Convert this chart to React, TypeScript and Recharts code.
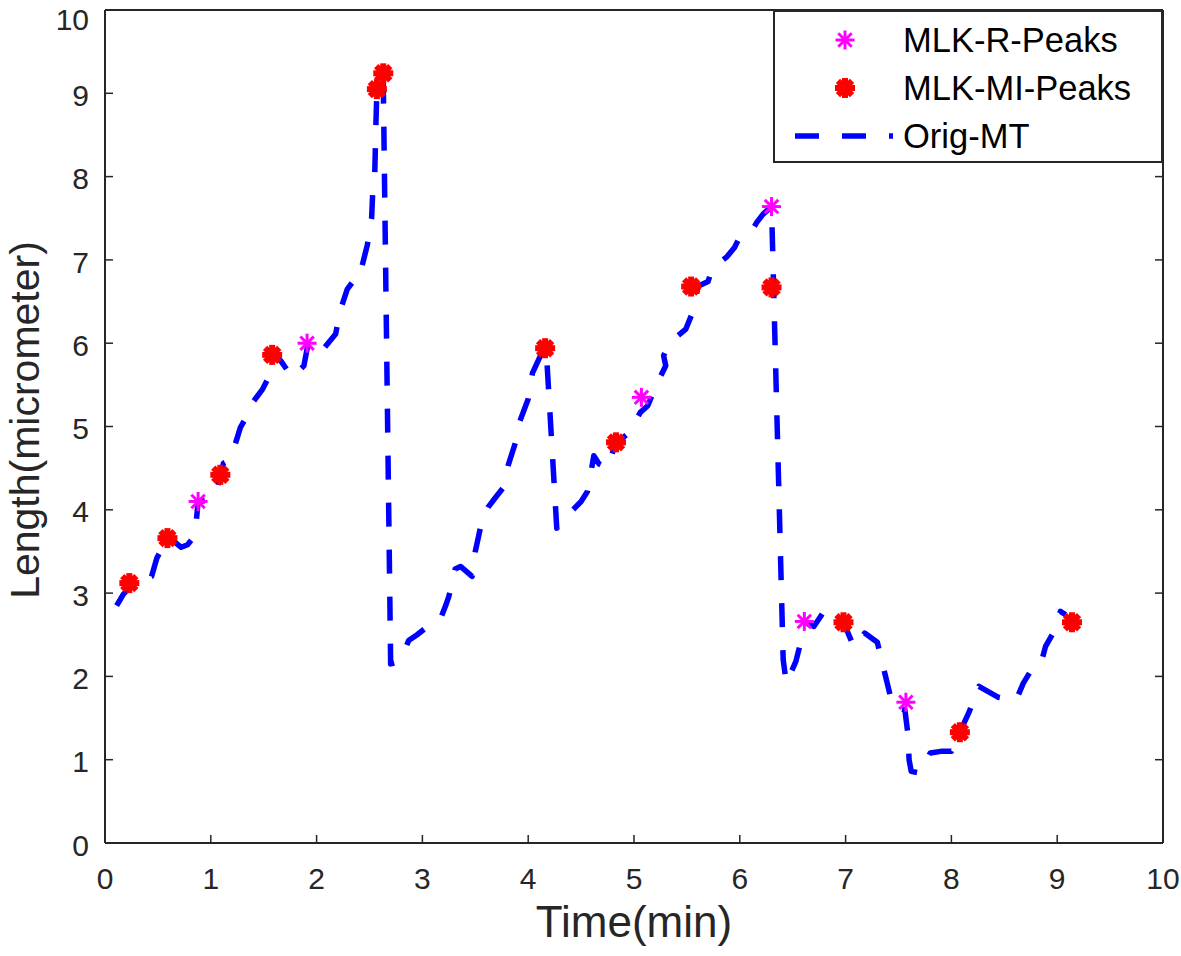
import React from "react";
import { ComposedChart, Line, Scatter, XAxis, YAxis, Legend } from "recharts";

// Orig-MT trace (time in min, length in micrometer)
const MT_TIME = [
  0.11, 0.17, 0.24, 0.35, 0.44, 0.49, 0.59, 0.65, 0.72, 0.78, 0.85, 0.87, 0.88, 0.96, 1.0, 1.06,
  1.09, 1.12, 1.18, 1.21, 1.28, 1.33, 1.35, 1.49, 1.53, 1.56, 1.58, 1.66, 1.77, 1.88, 1.92, 2.05,
  2.18, 2.22, 2.29, 2.35, 2.41, 2.43, 2.48, 2.52, 2.53, 2.55, 2.56, 2.57, 2.6, 2.63, 2.7, 2.76,
  2.8, 2.87, 2.95, 3.03, 3.17, 3.22, 3.25, 3.31, 3.36, 3.47, 3.5, 3.57, 3.62, 3.68, 3.76, 3.81,
  3.88, 3.92, 4.0, 4.04, 4.13, 4.17, 4.27, 4.4, 4.5, 4.56, 4.6, 4.62, 4.67, 4.75, 4.8, 4.83,
  4.95, 5.06, 5.13, 5.22, 5.3, 5.28, 5.33, 5.49, 5.58, 5.6, 5.65, 5.7, 5.74, 5.88, 5.95, 5.99,
  6.1, 6.16, 6.22, 6.3, 6.41, 6.44, 6.53, 6.59, 6.64, 6.7, 6.8, 6.89, 6.98, 7.08, 7.18, 7.3,
  7.45, 7.56, 7.59, 7.6, 7.62, 7.7, 7.8, 7.9, 8.0, 8.08, 8.17, 8.26, 8.44, 8.61, 8.68, 8.79,
  8.85, 8.89, 8.97, 9.03, 9.08,
];
const MT_LENGTH = [
  2.85, 2.98, 3.08, 3.15, 3.2, 3.42, 3.66, 3.62, 3.55, 3.58, 3.69, 3.96, 4.1, 4.11, 4.2, 4.23,
  4.42, 4.56, 4.6, 4.7, 4.99, 5.1, 5.21, 5.45, 5.55, 5.65, 5.86, 5.79, 5.59, 5.73, 6.0, 5.91,
  6.11, 6.38, 6.65, 6.75, 6.78, 6.93, 7.18, 7.5, 7.8, 8.05, 8.6, 9.05, 9.15, 9.15, 2.15, 2.17,
  2.22, 2.43, 2.5, 2.58, 2.69, 2.85, 2.96, 3.29, 3.32, 3.2, 3.5, 3.91, 4.03, 4.13, 4.26, 4.53,
  4.81, 5.06, 5.33, 5.64, 5.89, 5.93, 3.78, 3.97, 4.1, 4.22, 4.5, 4.65, 4.55, 4.5, 4.7, 4.8,
  4.92, 5.17, 5.25, 5.52, 5.73, 5.85, 6.0, 6.17, 6.45, 6.68, 6.71, 6.74, 6.9, 7.04, 7.15, 7.25,
  7.32, 7.45, 7.55, 7.64, 2.2, 1.92, 2.18, 2.48, 2.63, 2.6, 2.79, 2.76, 2.65, 2.35, 2.52, 2.41,
  1.62, 1.6, 1.3, 1.0, 0.86, 0.84, 1.08, 1.1, 1.1, 1.33, 1.58, 1.88, 1.75, 1.71, 1.92, 2.15,
  2.17, 2.36, 2.54, 2.78, 2.74,
];

// MLK-R-Peaks (magenta asterisks)
const R_PEAK_TIME = [0.88, 1.91, 5.07, 6.3, 6.61, 7.57];
const R_PEAK_LENGTH = [4.1, 6.0, 5.35, 7.64, 2.66, 1.69];

// MLK-MI-Peaks (red)
const MI_PEAK_TIME = [0.23, 0.59, 1.09, 1.58, 2.57, 2.63, 4.16, 4.83, 5.54, 6.3, 6.98, 8.08, 9.14];
const MI_PEAK_LENGTH = [3.12, 3.66, 4.42, 5.86, 9.05, 9.24, 5.94, 4.81, 6.68, 6.67, 2.65, 1.33, 2.65];

const TICKS = [0, 1, 2, 3, 4, 5, 6, 7, 8, 9, 10];

const FONT = '"Liberation Sans", Arial, Helvetica, sans-serif';
const AXIS = "#262626";
const BLUE = "#0000ff";
const RED = "#ff0000";
const MAGENTA = "#ff00ff";
const DASH = "24 23";

const mtData = MT_TIME.map((t, i) => ({ t, len: MT_LENGTH[i] }));
const rData = R_PEAK_TIME.map((t, i) => ({ t, len: R_PEAK_LENGTH[i] }));
const miData = MI_PEAK_TIME.map((t, i) => ({ t, len: MI_PEAK_LENGTH[i] }));

function Asterisk({ cx, cy, color, w, r, fill }: any) {
  const d = r * Math.SQRT1_2;
  return (
    <g stroke={color} strokeWidth={w}>
      {fill && <circle cx={cx} cy={cy} r={r - 3} fill={color} stroke="none" />}
      <line x1={cx - r} y1={cy} x2={cx + r} y2={cy} />
      <line x1={cx} y1={cy - r} x2={cx} y2={cy + r} />
      <line x1={cx - d} y1={cy - d} x2={cx + d} y2={cy + d} />
      <line x1={cx - d} y1={cy + d} x2={cx + d} y2={cy - d} />
    </g>
  );
}

const rShape = (p: any) => <Asterisk cx={p.cx} cy={p.cy} color={MAGENTA} w={3} r={9.5} />;
const miShape = (p: any) => <Asterisk cx={p.cx} cy={p.cy} color={RED} w={6} r={10} fill />;

function LegendBox() {
  const rows = [
    { label: "MLK-R-Peaks", kind: "r" },
    { label: "MLK-MI-Peaks", kind: "mi" },
    { label: "Orig-MT", kind: "line" },
  ];
  return (
    <svg width={390} height={153} style={{ display: "block" }}>
      <rect x={1} y={1} width={388} height={151} fill="#fff" stroke={AXIS} strokeWidth={2} />
      {rows.map((row, i) => {
        const cy = 30 + i * 48;
        return (
          <g key={row.label}>
            {row.kind === "r" && <Asterisk cx={72} cy={cy} color={MAGENTA} w={3} r={9.5} />}
            {row.kind === "mi" && <Asterisk cx={72} cy={cy} color={RED} w={6} r={10} fill />}
            {row.kind === "line" && (
              <line x1={22} y1={cy} x2={120} y2={cy} stroke={BLUE} strokeWidth={5.5} strokeDasharray={DASH} />
            )}
            <text x={130} y={cy + 12} fontSize={34.5} fontFamily={FONT} fill="#000">
              {row.label}
            </text>
          </g>
        );
      })}
    </svg>
  );
}

export default function App() {
  const tickStyle = { fill: AXIS, fontSize: 30, fontFamily: FONT };
  return (
    <div style={{ position: "absolute", left: 0, top: 0, width: 1181, height: 956, background: "#fff" }}>
      <ComposedChart width={1181} height={956} margin={{ top: 9, right: 17, bottom: 53, left: 45 }}>
        <XAxis
          type="number" dataKey="t" domain={[0, 10]} ticks={TICKS} allowDataOverflow
          height={60} tickSize={-8} tickMargin={33}
          axisLine={{ stroke: AXIS, strokeWidth: 2 }} tickLine={{ stroke: AXIS, strokeWidth: 1.5 }}
          tick={tickStyle}
          label={{
            content: () => (
              <text x={634} y={937} textAnchor="middle" fontSize={44} fontFamily={FONT} fill={AXIS}>
                Time(min)
              </text>
            ),
          }}
        />
        <XAxis
          xAxisId="top" orientation="top" type="number" domain={[0, 10]} ticks={TICKS} allowDataOverflow
          height={1} tickSize={-8} tickFormatter={() => ""}
          axisLine={{ stroke: AXIS, strokeWidth: 2 }} tickLine={{ stroke: AXIS, strokeWidth: 1.5 }}
        />
        <YAxis
          type="number" domain={[0, 10]} ticks={TICKS} allowDataOverflow
          width={60} tickSize={-8} tickMargin={24}
          axisLine={{ stroke: AXIS, strokeWidth: 2 }} tickLine={{ stroke: AXIS, strokeWidth: 1.5 }}
          tick={{ ...tickStyle, dy: 2 }}
          label={{
            content: () => (
              <text x={39} y={420} transform="rotate(-90 39 420)" textAnchor="middle" fontSize={41} fontFamily={FONT} fill={AXIS}>
                Length(micrometer)
              </text>
            ),
          }}
        />
        <YAxis
          yAxisId="right" orientation="right" type="number" domain={[0, 10]} ticks={TICKS} allowDataOverflow
          width={1} tickSize={-8} tickFormatter={() => ""}
          axisLine={{ stroke: AXIS, strokeWidth: 2 }} tickLine={{ stroke: AXIS, strokeWidth: 1.5 }}
        />
        <Scatter data={rData} dataKey="len" shape={rShape} isAnimationActive={false} />
        <Scatter data={miData} dataKey="len" shape={miShape} isAnimationActive={false} />
        <Line
          data={mtData} dataKey="len" type="linear" stroke={BLUE} strokeWidth={5.5}
          strokeDasharray={DASH} strokeLinejoin="round" dot={false} activeDot={false}
          isAnimationActive={false}
        />
        <Legend
          layout="horizontal" verticalAlign="middle" align="center"
          content={<LegendBox />}
          wrapperStyle={{ left: 773, top: 10, width: 390, height: 153 }}
        />
      </ComposedChart>
    </div>
  );
}
